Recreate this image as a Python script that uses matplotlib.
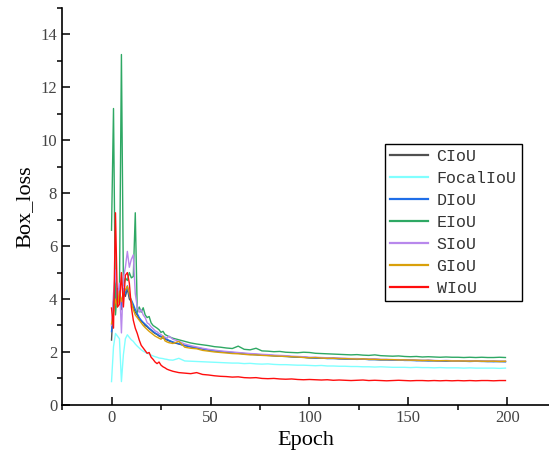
import matplotlib
matplotlib.use('Agg')
import matplotlib.pyplot as plt
from matplotlib.ticker import MultipleLocator

# 每个epoch的前30个点逐个记录, 之后每3个epoch取一个点
epochs = list(range(30)) + list(range(31, 200, 3))

ciou = [2.45, 3.9, 4.6, 3.8, 4.2, 3.6, 4.3, 4.1, 4.4, 4.0,
        3.9, 3.7, 3.5, 3.4, 3.25, 3.15, 3.1, 3.0, 2.95, 2.88,
        2.82, 2.75, 2.7, 2.66, 2.6, 2.57, 2.52, 2.5, 2.45, 2.42,
        2.36, 2.30, 2.24, 2.19, 2.15, 2.11, 2.07, 2.04, 2.01, 1.99,
        1.97, 1.95, 1.94, 1.91, 1.90, 1.89, 1.87, 1.86, 1.85, 1.84,
        1.82, 1.81, 1.80, 1.78, 1.78, 1.77, 1.76, 1.77, 1.75, 1.74,
        1.74, 1.73, 1.73, 1.72, 1.72, 1.71, 1.71, 1.70, 1.70, 1.69,
        1.70, 1.68, 1.67, 1.68, 1.67, 1.66, 1.66, 1.67, 1.66, 1.65,
        1.66, 1.65, 1.65, 1.64, 1.65, 1.64, 1.64]

focal = [0.88, 2.2, 2.7, 2.6, 2.5, 0.88, 1.9, 2.5, 2.65, 2.55,
         2.46, 2.4, 2.3, 2.22, 2.15, 2.08, 2.03, 1.99, 1.95, 1.92,
         1.88, 1.85, 1.82, 1.8, 1.77, 1.76, 1.75, 1.73, 1.72, 1.7,
         1.69, 1.76, 1.66, 1.65, 1.64, 1.63, 1.62, 1.61, 1.60, 1.59,
         1.58, 1.58, 1.56, 1.57, 1.55, 1.54, 1.55, 1.53, 1.52, 1.52,
         1.51, 1.50, 1.50, 1.49, 1.48, 1.49, 1.47, 1.47, 1.46, 1.46,
         1.45, 1.45, 1.44, 1.44, 1.43, 1.44, 1.43, 1.42, 1.42, 1.42,
         1.41, 1.42, 1.41, 1.41, 1.40, 1.41, 1.40, 1.40, 1.40, 1.39,
         1.40, 1.39, 1.39, 1.39, 1.39, 1.38, 1.39]

diou = [2.77, 3.6, 4.3, 3.9, 4.1, 3.7, 4.4, 4.2, 4.5, 4.1,
        3.97, 3.8, 3.6, 3.45, 3.3, 3.2, 3.12, 3.05, 2.98, 2.9,
        2.84, 2.78, 2.72, 2.68, 2.63, 2.59, 2.55, 2.52, 2.48, 2.44,
        2.38, 2.31, 2.25, 2.20, 2.16, 2.12, 2.08, 2.05, 2.02, 2.00,
        1.98, 1.96, 1.93, 1.92, 1.90, 1.88, 1.88, 1.86, 1.84, 1.83,
        1.82, 1.80, 1.80, 1.78, 1.77, 1.77, 1.75, 1.75, 1.74, 1.74,
        1.73, 1.72, 1.73, 1.71, 1.71, 1.70, 1.70, 1.69, 1.70, 1.68,
        1.68, 1.67, 1.68, 1.66, 1.67, 1.66, 1.65, 1.66, 1.65, 1.65,
        1.64, 1.65, 1.64, 1.64, 1.63, 1.64, 1.63]

eiou = [6.6, 11.2, 3.4, 4.4, 4.2, 13.24, 4.5, 4.8, 4.7, 5.0,
        4.8, 4.85, 7.26, 3.5, 3.7, 3.5, 3.67, 3.4, 3.3, 3.34,
        3.1, 3.0, 2.95, 2.9, 2.84, 2.74, 2.78, 2.66, 2.62, 2.58,
        2.52, 2.46, 2.40, 2.34, 2.30, 2.27, 2.24, 2.20, 2.18, 2.15,
        2.13, 2.22, 2.10, 2.08, 2.14, 2.04, 2.03, 2.01, 2.02, 1.99,
        1.98, 1.97, 1.99, 1.98, 1.95, 1.94, 1.93, 1.92, 1.91, 1.90,
        1.89, 1.90, 1.88, 1.87, 1.89, 1.86, 1.85, 1.84, 1.85, 1.83,
        1.82, 1.83, 1.81, 1.82, 1.81, 1.80, 1.81, 1.80, 1.80, 1.79,
        1.80, 1.79, 1.80, 1.79, 1.79, 1.80, 1.79]

siou = [3.0, 4.2, 5.1, 4.0, 4.6, 2.72, 4.8, 5.2, 5.8, 5.2,
        5.5, 5.67, 4.2, 3.7, 3.5, 3.6, 3.4, 3.3, 3.1, 3.05,
        2.95, 2.88, 2.8, 2.76, 2.7, 2.66, 2.6, 2.56, 2.52, 2.6,
        2.48, 2.40, 2.30, 2.24, 2.19, 2.14, 2.10, 2.07, 2.04, 2.02,
        2.00, 1.98, 1.96, 1.94, 1.93, 1.91, 1.90, 1.88, 1.87, 1.86,
        1.84, 1.83, 1.82, 1.80, 1.80, 1.79, 1.78, 1.77, 1.77, 1.76,
        1.75, 1.75, 1.74, 1.73, 1.74, 1.72, 1.72, 1.71, 1.71, 1.70,
        1.70, 1.69, 1.68, 1.69, 1.68, 1.67, 1.68, 1.67, 1.66, 1.67,
        1.66, 1.66, 1.65, 1.66, 1.65, 1.65, 1.65]

giou = [3.06, 3.5, 4.0, 3.7, 4.3, 3.9, 4.2, 4.35, 4.48, 4.2,
        3.9, 3.6, 3.4, 3.3, 3.2, 3.1, 3.0, 2.92, 2.85, 2.78,
        2.72, 2.66, 2.6, 2.56, 2.52, 2.48, 2.6, 2.42, 2.38, 2.35,
        2.32, 2.40, 2.18, 2.14, 2.12, 2.06, 2.03, 2.00, 1.98, 1.96,
        1.94, 1.93, 1.91, 1.89, 1.89, 1.87, 1.86, 1.85, 1.84, 1.83,
        1.82, 1.81, 1.79, 1.78, 1.79, 1.77, 1.76, 1.76, 1.75, 1.75,
        1.74, 1.73, 1.74, 1.72, 1.72, 1.71, 1.71, 1.71, 1.70, 1.70,
        1.69, 1.69, 1.68, 1.68, 1.67, 1.67, 1.67, 1.66, 1.66, 1.66,
        1.65, 1.66, 1.65, 1.65, 1.65, 1.64, 1.65]

wiou = [3.66, 2.9, 7.26, 3.7, 3.8, 5.0, 3.7, 4.9, 5.0, 4.6,
        3.7, 3.2, 2.9, 2.7, 2.45, 2.25, 2.15, 2.05, 1.95, 1.98,
        1.8, 1.72, 1.62, 1.56, 1.62, 1.5, 1.44, 1.40, 1.35, 1.32,
        1.27, 1.22, 1.20, 1.18, 1.22, 1.15, 1.13, 1.10, 1.08, 1.07,
        1.05, 1.06, 1.03, 1.02, 1.03, 1.00, 0.99, 1.00, 0.98, 0.97,
        0.98, 0.96, 0.95, 0.96, 0.95, 0.94, 0.95, 0.93, 0.94, 0.93,
        0.92, 0.93, 0.94, 0.92, 0.93, 0.92, 0.91, 0.92, 0.93, 0.92,
        0.91, 0.92, 0.92, 0.91, 0.92, 0.91, 0.92, 0.91, 0.92, 0.91,
        0.92, 0.91, 0.92, 0.92, 0.91, 0.92, 0.92]

names = ['CIoU', 'FocalIoU', 'DIoU', 'EIoU', 'SIoU', 'GIoU', 'WIoU']
series = [ciou, focal, diou, eiou, siou, giou, wiou]
colors = ['#505050', '#80ffff', '#1f6ee8', '#2ea864', '#b888ec', '#d9a00a', '#ff0d0d']

fig = plt.figure(figsize=(5.49, 4.67), dpi=100)
ax = fig.add_axes([0.113, 0.133, 0.887, 0.85])

for name, vals, c in zip(names, series, colors):
    ax.plot(epochs, vals, color=c, lw=1.0, label=name)

ax.set_xlim(-25, 221)
ax.set_ylim(0, 15)
ax.xaxis.set_major_locator(MultipleLocator(50))
ax.xaxis.set_minor_locator(MultipleLocator(25))
ax.yaxis.set_major_locator(MultipleLocator(2))
ax.yaxis.set_minor_locator(MultipleLocator(1))
ax.tick_params(which='major', direction='in', length=6, width=1.1,
               labelsize=12, labelcolor='#444444')
ax.tick_params(which='minor', direction='out', length=3.5, width=1.1)
for lab in ax.get_xticklabels() + ax.get_yticklabels():
    lab.set_family('Liberation Serif')

ax.spines['top'].set_visible(False)
ax.spines['right'].set_visible(False)
ax.spines['left'].set_linewidth(1.2)
ax.spines['bottom'].set_linewidth(1.2)

ax.set_xlabel('Epoch', family='Liberation Serif', fontsize=16)
ax.set_ylabel('Box_loss', family='Liberation Serif', fontsize=16)

leg = ax.legend(loc='upper left', bbox_to_anchor=(0.663, 0.657), borderaxespad=0,
                prop={'family': 'Liberation Mono', 'size': 12}, fancybox=False,
                framealpha=1, edgecolor='black', handlelength=2.3,
                labelspacing=0.42, borderpad=0.3, handletextpad=0.5)
leg.get_frame().set_linewidth(1.0)
for line in leg.get_lines():
    line.set_linewidth(1.6)
for t in leg.get_texts():
    t.set_color('#333333')

plt.savefig('out.png', dpi=100)
